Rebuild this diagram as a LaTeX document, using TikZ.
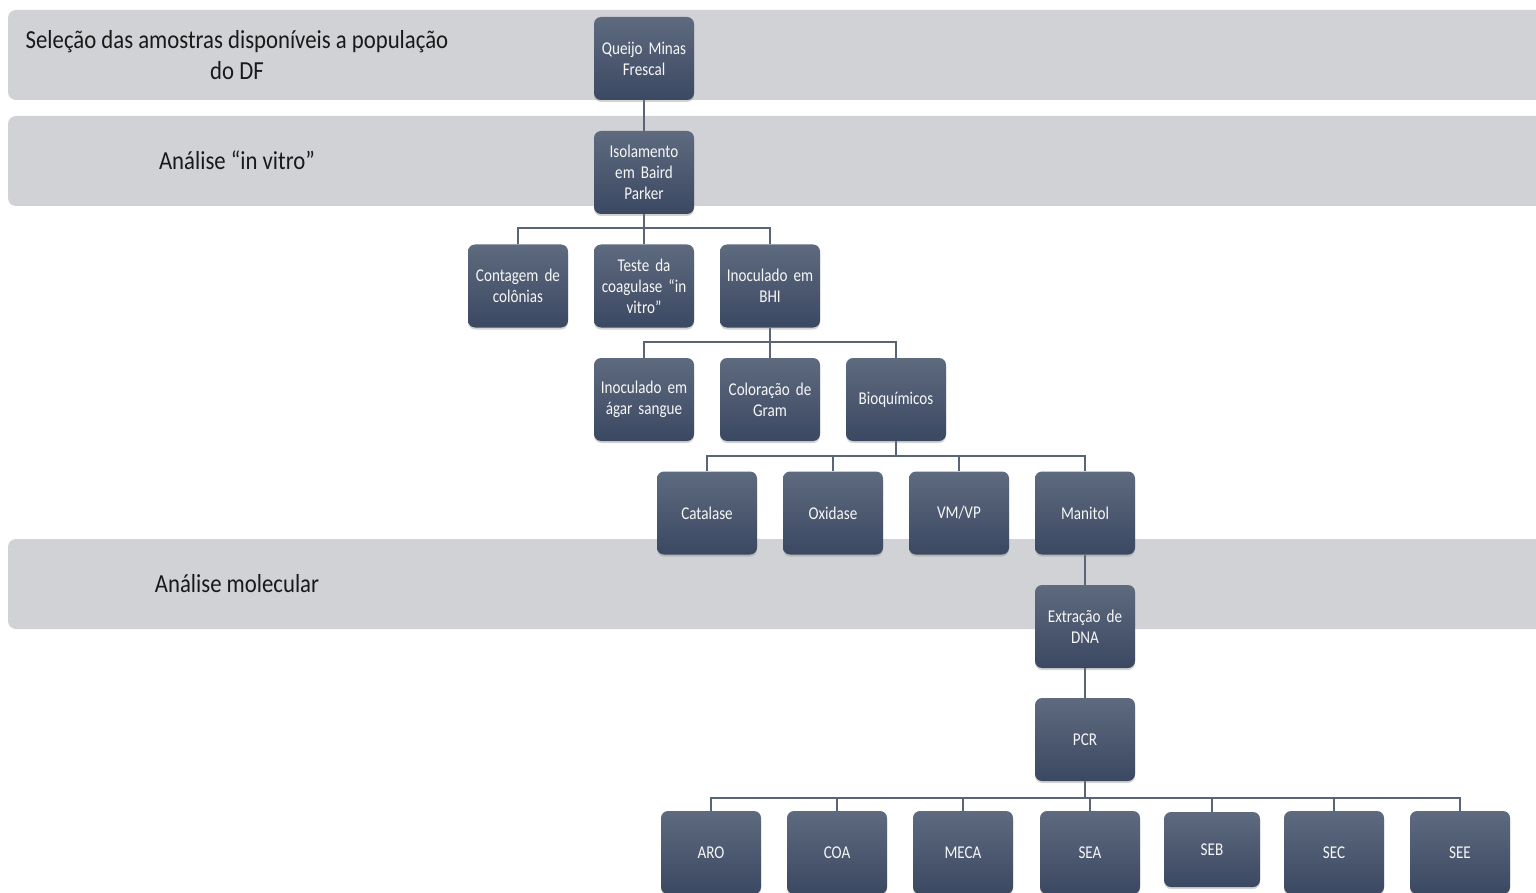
\documentclass[tikz,border=0pt]{standalone}
\usepackage{fontspec}
\setmainfont{Carlito}
\newfontfamily\bandfont[FakeStretch=0.875]{Carlito}
\newfontfamily\boxfont[FakeStretch=0.84, WordSpace=0.55]{Carlito}
\usetikzlibrary{shadows,backgrounds}
\definecolor{bandgray}{HTML}{D1D2D6}
\definecolor{boxtop}{HTML}{5E6A7E}
\definecolor{boxbot}{HTML}{3B4862}
\definecolor{linkcol}{HTML}{5A6477}
\tikzset{
  band/.style={fill=bandgray, draw=none, rounded corners=8pt},
  bandtext/.style={font=\bandfont\fontsize{26}{31}\selectfont, text=black!90, align=center},
  stepbox/.style={rectangle, rounded corners=7pt, minimum width=100pt, minimum height=83pt,
    text width=96pt, align=center, inner sep=0pt, top color=boxtop, bottom color=boxbot,
    draw=none, text=white!97!black, font=\boxfont\fontsize{18}{21}\selectfont,
    drop shadow={shadow xshift=0pt, shadow yshift=-2pt, opacity=0.35}},
  link/.style={draw=linkcol, line width=1.6pt}
}
\begin{document}
\begin{tikzpicture}[x=1pt, y=-1pt]
\useasboundingbox (0,0) rectangle (1536,893);
\clip (0,0) rectangle (1536,893);

% process boxes
\node[stepbox] (queijo) at (644,58.5) {Queijo Minas\\Frescal};
\node[stepbox] (iso) at (644,172.5) {Isolamento\\em Baird\\Parker};
\node[stepbox] (cont) at (518,286) {Contagem de\\colônias};
\node[stepbox] (teste) at (644,286) {Teste da\\coagulase “in\\vitro”};
\node[stepbox] (bhi) at (770,286) {Inoculado em\\BHI};
\node[stepbox] (agar) at (644,399.5) {Inoculado em\\ágar sangue};
\node[stepbox] (gram) at (770,399.5) {Coloração de\\Gram};
\node[stepbox] (bioq) at (896,399.5) {Bioquímicos};
\node[stepbox] (cat) at (707,513) {Catalase};
\node[stepbox] (oxi) at (833,513) {Oxidase};
\node[stepbox] (vmvp) at (959,513) {VM/VP};
\node[stepbox] (mani) at (1085,513) {Manitol};
\node[stepbox] (dna) at (1085,626.5) {Extração de\\DNA};
\node[stepbox] (pcr) at (1085,739.5) {PCR};
\node[stepbox] (aro) at (711,852.5) {ARO};
\node[stepbox] (coa) at (837,852.5) {COA};
\node[stepbox] (meca) at (963,852.5) {MECA};
\node[stepbox] (sea) at (1090,852.5) {SEA};
\node[stepbox, minimum width=90pt, minimum height=75pt] (seb) at (1212,849.5) {SEB};
\node[stepbox] (sec) at (1334,852.5) {SEC};
\node[stepbox] (see) at (1460,852.5) {SEE};

\begin{scope}[on background layer]
% stage bands
\fill[band] (8,10) rectangle (1560,100);
\fill[band] (8,116) rectangle (1560,206);
\fill[band] (8,539) rectangle (1560,629);
\node[bandtext] (lbl1) at (237,55) {Seleção das amostras disponíveis a população\\do DF};
\node[bandtext] (lbl2) at (237,160) {Análise “in vitro”};
\node[bandtext] (lbl3) at (237,584) {Análise molecular};

% connectors, kept behind the boxes
\draw[link] (queijo.south) -- (iso.north);
\draw[link] (iso.south) -- (teste.north);
\draw[link] (cont.north) -- ++(0,-16) -| (bhi.north);
\draw[link] (bhi.south) -- (gram.north);
\draw[link] (agar.north) -- ++(0,-16) -| (bioq.north);
\draw[link] (bioq.south) -- ++(0,15) -| (cat.north);
\draw[link] (bioq.south) ++(0,15) -| (oxi.north);
\draw[link] (bioq.south) ++(0,15) -| (vmvp.north);
\draw[link] (bioq.south) ++(0,15) -| (mani.north);
\draw[link] (mani.south) -- (dna.north);
\draw[link] (dna.south) -- (pcr.north);
\draw[link] (pcr.south) -- ++(0,17) coordinate (bus);
\foreach \t in {aro,coa,meca,sea,seb,sec,see}
  \draw[link] (bus) -| (\t.north);
\end{scope}
\end{tikzpicture}
\end{document}
